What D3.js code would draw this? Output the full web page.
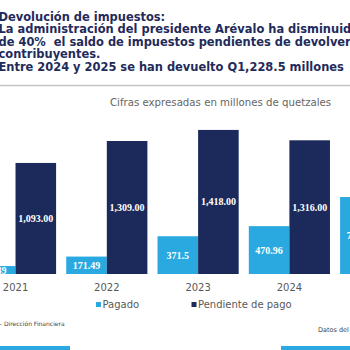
<!DOCTYPE html>
<html><head><meta charset="utf-8">
<script src="https://cdn.jsdelivr.net/npm/d3@7"></script>
<style>body{margin:0;background:#fff;}svg{display:block;} text{white-space:pre;}</style>
</head><body>
<script>
const years = ["2021","2022","2023","2024","2025"];
const pagado = [78.49, 171.49, 371.5, 470.96, 757.54];
const pendiente = [1093, 1309, 1418, 1316, 851];
const pagadoLabels = ["78.49","171.49","371.5","470.96","757.54"];
const pendienteLabels = ["1,093.00","1,309.00","1,418.00","1,316.00","851.00"];
const seriesNames = ["Pagado","Pendiente de pago"];
const titleLines = [
  "Devolución de impuestos:",
  "La administración del presidente Arévalo ha disminuido",
  "de 40%  el saldo de impuestos pendientes de devolver a",
  "contribuyentes.",
  "Entre 2024 y 2025 se han devuelto Q1,228.5 millones"
];
const subtitle = "Cifras expresadas en millones de quetzales";
const sourceLeft = "– Dirección Financiera";
const sourceRight = "Datos del";

const colors = ["#29a9e0", "#1b2a5a"];
const W = 350, H = 350;
const svg = d3.select("body").append("svg").attr("width", W).attr("height", H);

// title
const title = svg.append("g");
const tl = titleLines.map((t, i) => title.append("text").attr("x", -1.5).attr("y", 20.5 + i * 12.6)
    .attr("font-family", "DejaVu Sans").attr("font-weight", "bold")
    .attr("font-size", 12).attr("fill", "#1f2b5b").text(t));
const w5 = tl[4].node().getComputedTextLength();
const fs = 12 * 346 / w5;
tl.forEach(t => t.attr("font-size", fs));

svg.append("line").attr("x1", 0).attr("x2", W).attr("y1", 85.5).attr("y2", 85.5)
  .attr("stroke", "#c4c4c4").attr("stroke-width", 1.5);
svg.append("text").attr("x", 110).attr("y", 106).attr("font-family", "DejaVu Sans")
  .attr("font-size", 10.2).attr("fill", "#666").text(subtitle);

const x = d3.scaleBand().domain(years).range([-35.2, 431.4]).padding(0.111);
const xs = d3.scaleBand().domain([0, 1]).range([0, x.bandwidth()]);
const y = d3.scaleLinear().domain([0, 1500]).range([274, 121.6]);

const data = years.map((yr, i) => ({yr, vals: [
  {s: 0, v: pagado[i], l: pagadoLabels[i]},
  {s: 1, v: pendiente[i], l: pendienteLabels[i]}]}));

const g = svg.append("g");
const grp = g.selectAll("g.grp").data(data).join("g")
  .attr("transform", d => `translate(${x(d.yr)},0)`);
grp.selectAll("rect").data(d => d.vals).join("rect")
  .attr("x", d => xs(d.s)).attr("width", xs.bandwidth())
  .attr("y", d => y(d.v)).attr("height", d => y(0) - y(d.v))
  .attr("fill", d => colors[d.s]);
grp.selectAll("text").data(d => d.vals).join("text")
  .attr("x", d => xs(d.s) + xs.bandwidth() / 2)
  .attr("y", d => (y(d.v) + y(0)) / 2 + 3.5)
  .attr("text-anchor", "middle").attr("font-family", "Liberation Serif")
  .attr("font-weight", "bold").attr("font-size", 10).attr("fill", "#fff")
  .text(d => d.l);

// x axis
const xAxis = svg.append("g").attr("transform", "translate(0,274)")
  .call(d3.axisBottom(x).tickSize(0).tickPadding(10));
xAxis.select(".domain").remove();
xAxis.selectAll("text").attr("font-family", "DejaVu Sans").attr("font-size", 10).attr("fill", "#595959");

// legend
const legX = [96, 191.5];
const leg = svg.append("g");
seriesNames.forEach((n, i) => {
  leg.append("rect").attr("x", legX[i]).attr("y", 302).attr("width", 5).attr("height", 5).attr("fill", colors[i]);
  leg.append("text").attr("x", legX[i] + 6.5).attr("y", 308).attr("font-family", "DejaVu Sans")
    .attr("font-size", 10).attr("fill", "#595959").text(n);
});

// source texts
svg.append("text").attr("x", -1).attr("y", 326).attr("font-family", "DejaVu Sans")
  .attr("font-size", 6).attr("fill", "#444").text(sourceLeft);
svg.append("text").attr("x", 318).attr("y", 332).attr("font-family", "DejaVu Sans")
  .attr("font-size", 6.5).attr("fill", "#444").text(sourceRight);
svg.append("rect").attr("x", 0).attr("y", 346).attr("width", 70).attr("height", 4).attr("fill", colors[0]);
svg.append("rect").attr("x", 281).attr("y", 346).attr("width", 69).attr("height", 4).attr("fill", colors[0]);
</script>
</body></html>
